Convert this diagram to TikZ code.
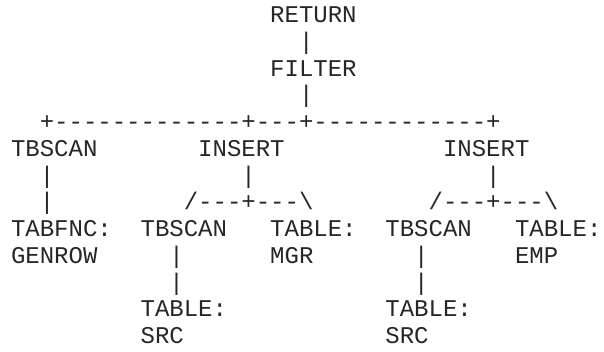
\documentclass[tikz,border=0pt]{standalone}
\usepackage{fontspec}
\setmonofont{Liberation Mono}
% character grid: column pitch, left margin, first baseline, line pitch (pt)
\newcommand\colpitch{14.4}
\newcommand\leftx{11}
\newcommand\firstbase{22.5}
\newcommand\linepitch{26.75}
% \placetok{name}{column}{row}{text}
\newcommand\placetok[4]{%
  \node[tok] (#1) at ({\leftx+#2*\colpitch},{\firstbase+#3*\linepitch}) {#4};}
\begin{document}
\begin{tikzpicture}[x=1pt,y=-1pt,
  tok/.style={anchor=base west, inner sep=0pt, outer sep=0pt, text depth=0pt,
    font=\ttfamily\fontsize{24}{27}\selectfont, text=black!85}]
\useasboundingbox (0,0) rectangle (604,351);
% top of the plan
\placetok{ret}{18}{0}{RETURN}
\placetok{ret-fil}{20}{1}{|}
\placetok{fil}{18}{2}{FILTER}
\placetok{fil-bar}{20}{3}{|}
\placetok{bar}{2}{4}{+-------------+---+------------+}
% three inputs of the filter
\placetok{tbscan}{0}{5}{TBSCAN}
\placetok{insA}{13}{5}{INSERT}
\placetok{insB}{30}{5}{INSERT}
\placetok{tbscan-a}{2}{6}{|}
\placetok{insA-a}{16}{6}{|}
\placetok{insB-a}{33}{6}{|}
\placetok{tbscan-b}{2}{7}{|}
\placetok{insA-fork}{12}{7}{/---+---\textbackslash}
\placetok{insB-fork}{29}{7}{/---+---\textbackslash}
% leaves and scans
\placetok{tabfnc}{0}{8}{TABFNC:}
\placetok{scanA}{9}{8}{TBSCAN}
\placetok{tabMgr}{18}{8}{TABLE:}
\placetok{scanB}{26}{8}{TBSCAN}
\placetok{tabEmp}{35}{8}{TABLE:}
\placetok{genrow}{0}{9}{GENROW}
\placetok{scanA-a}{11}{9}{|}
\placetok{mgr}{18}{9}{MGR}
\placetok{scanB-a}{28}{9}{|}
\placetok{emp}{35}{9}{EMP}
\placetok{scanA-b}{11}{10}{|}
\placetok{scanB-b}{28}{10}{|}
\placetok{tabSrcA}{9}{11}{TABLE:}
\placetok{tabSrcB}{26}{11}{TABLE:}
\placetok{srcA}{9}{12}{SRC}
\placetok{srcB}{26}{12}{SRC}
\end{tikzpicture}
\end{document}
